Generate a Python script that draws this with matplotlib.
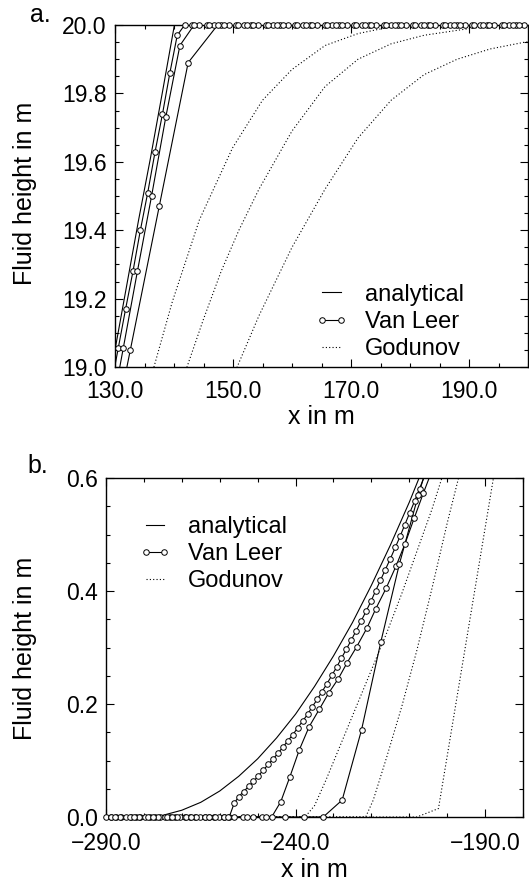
import matplotlib
matplotlib.use("Agg")
import matplotlib.pyplot as plt
from matplotlib.ticker import FixedLocator, MultipleLocator, FuncFormatter
from matplotlib.lines import Line2D

plt.rcParams['font.family'] = ['Liberation Sans', 'DejaVu Sans']

# ---- panel a: upper end of the rarefaction ----
a_xticks = [130.0, 150.0, 170.0, 190.0]
a_yticks = [19.0, 19.2, 19.4, 19.6, 19.8, 20.0]

a_ana_x = [128.0, 130.0, 132.0, 134.0, 136.0, 138.0, 140.07, 200.0]
a_ana_h = [18.87, 19.05, 19.24, 19.43, 19.61, 19.80, 20.0, 20.0]

a_vl1_x = [129.3, 130.55, 131.8, 133.05, 134.3, 135.55, 136.8, 138.05, 139.3, 140.55,
           141.8, 143.05, 144.3, 145.55, 146.8, 148.05, 149.3, 150.55, 151.8, 153.05,
           154.3, 155.55, 156.8, 158.05, 159.3, 160.55, 161.8, 163.05, 164.3, 165.55,
           166.8, 168.05, 169.3, 170.55, 171.8, 173.05, 174.3, 175.55, 176.8, 178.05,
           179.3, 180.55, 181.8, 183.05, 184.3, 185.55, 186.8, 188.05, 189.3, 190.55,
           191.8, 193.05, 194.3, 195.55, 196.8, 198.05, 199.3]
a_vl1_h = [18.94, 19.055, 19.17, 19.28, 19.40, 19.51, 19.63, 19.74, 19.86, 19.97,
           20.0, 20.0, 20.0, 20.0, 20.0, 20.0, 20.0, 20.0, 20.0, 20.0,
           20.0, 20.0, 20.0, 20.0, 20.0, 20.0, 20.0, 20.0, 20.0, 20.0,
           20.0, 20.0, 20.0, 20.0, 20.0, 20.0, 20.0, 20.0, 20.0, 20.0,
           20.0, 20.0, 20.0, 20.0, 20.0, 20.0, 20.0, 20.0, 20.0, 20.0,
           20.0, 20.0, 20.0, 20.0, 20.0, 20.0, 20.0]

a_vl2_x = [129.0, 131.4, 133.8, 136.2, 138.6, 141.0,
           143.4, 145.9, 148.4, 150.9, 153.4, 155.9, 158.4, 160.9, 163.4, 165.9,
           168.4, 170.9, 173.4, 175.9, 178.4, 180.9, 183.4, 185.9, 188.4, 190.9,
           193.4, 195.9, 198.4]
a_vl2_h = [18.83, 19.055, 19.28, 19.50, 19.73, 19.94,
           20.0, 20.0, 20.0, 20.0, 20.0, 20.0, 20.0, 20.0, 20.0, 20.0,
           20.0, 20.0, 20.0, 20.0, 20.0, 20.0, 20.0, 20.0, 20.0, 20.0,
           20.0, 20.0, 20.0]

a_vl3_x = [127.6, 132.6, 137.5, 142.4, 147.4, 152.4, 157.4, 162.4, 167.4, 172.4,
           177.4, 182.4, 187.4, 192.4, 197.4]
a_vl3_h = [18.62, 19.05, 19.47, 19.89, 20.0, 20.0, 20.0, 20.0, 20.0, 20.0,
           20.0, 20.0, 20.0, 20.0, 20.0]

a_god1_x = [134.0, 136.6, 139.7, 144.3, 149.9, 155.0, 160.0, 165.6, 171.2, 176.0, 180.0, 200.0]
a_god1_h = [18.83, 19.0, 19.19, 19.43, 19.64, 19.78, 19.87, 19.94, 19.975, 19.992, 20.0, 20.0]
a_god2_x = [139.5, 142.2, 145.0, 148.0, 151.0, 154.4, 160.0, 165.6, 171.2, 176.8, 182.4, 190.2, 196.0, 200.0]
a_god2_h = [18.85, 19.0, 19.14, 19.28, 19.40, 19.52, 19.69, 19.82, 19.90, 19.945, 19.97, 19.99, 20.0, 20.0]
a_god3_x = [148.0, 150.7, 154.4, 160.0, 165.6, 171.2, 176.8, 182.4, 188.0, 193.6, 199.5, 201.0]
a_god3_h = [18.88, 19.0, 19.15, 19.35, 19.52, 19.67, 19.78, 19.855, 19.90, 19.93, 19.95, 19.952]

# ---- panel b: toe of the wave on the dry bed ----
b_xticks = [-290.0, -240.0, -190.0]
b_yticks = [0.0, 0.2, 0.4, 0.6]

b_ana_x = [-290.0, -280.1, -275.0, -270.0, -265.0, -260.0, -255.0, -250.0, -245.0,
           -240.0, -235.0, -230.0, -225.0, -220.0, -215.0, -210.0, -205.0]
b_ana_h = [0.0, 0.0, 0.003, 0.012, 0.026, 0.046, 0.072, 0.103, 0.140,
           0.182, 0.231, 0.285, 0.344, 0.410, 0.481, 0.557, 0.640]

b_vl1_x = [-290.0, -288.7, -287.4, -286.1, -284.8, -283.5, -282.2, -280.9, -279.6, -278.3,
           -277.0, -275.7, -274.4, -273.1, -271.8, -270.5, -269.2, -267.9, -266.6, -265.3,
           -264.0, -262.7, -261.4, -260.1, -258.8, -257.5, -256.2, -255.0, -253.7, -252.4,
           -251.1, -249.8, -248.5, -247.2, -245.9, -244.6, -243.3, -242.0, -240.7, -239.4,
           -238.1, -236.8, -235.6, -234.3, -233.0, -231.7, -230.4, -229.1, -227.9, -226.6,
           -225.3, -224.0, -222.7, -221.4, -220.1, -218.9, -217.6, -216.3, -215.0, -213.7,
           -212.4, -211.2, -209.9, -208.6, -207.3, -206.0, -204.7]
b_vl1_h = [0.0, 0.0, 0.0, 0.0, 0.0, 0.0, 0.0, 0.0, 0.0, 0.0,
           0.0, 0.0, 0.0, 0.0, 0.0, 0.0, 0.0, 0.0, 0.0, 0.0,
           0.0, 0.0, 0.0, 0.0, 0.0, 0.0, 0.024, 0.036, 0.045, 0.054,
           0.063, 0.073, 0.083, 0.093, 0.103, 0.113, 0.124, 0.135, 0.146, 0.158,
           0.170, 0.182, 0.195, 0.208, 0.222, 0.236, 0.251, 0.266, 0.281, 0.297,
           0.313, 0.330, 0.347, 0.364, 0.382, 0.400, 0.419, 0.438, 0.457, 0.477,
           0.497, 0.517, 0.538, 0.559, 0.581, 0.603, 0.626]

b_vl2_x = [-288.8, -286.3, -283.8, -281.3, -278.8, -276.3, -273.8, -271.3, -268.8, -266.3,
           -263.8, -261.3, -258.8, -256.3, -253.8, -251.3, -248.8, -246.3, -243.9, -241.5,
           -239.0, -236.4, -233.7, -231.3, -228.7, -226.4, -223.9, -221.2, -218.8, -216.1,
           -213.5, -211.1, -208.7, -206.3, -203.9]
b_vl2_h = [0.0, 0.0, 0.0, 0.0, 0.0, 0.0, 0.0, 0.0, 0.0, 0.0,
           0.0, 0.0, 0.0, 0.0, 0.0, 0.0, 0.0, 0.0, 0.027, 0.071,
           0.119, 0.160, 0.191, 0.219, 0.245, 0.273, 0.301, 0.334, 0.369, 0.405,
           0.444, 0.484, 0.529, 0.573, 0.615]

b_vl3_x = [-287.7, -282.7, -277.7, -272.7, -267.7, -262.7, -257.7, -252.7, -247.7, -242.7,
           -237.7, -232.7, -227.7, -222.6, -217.5, -212.6, -207.6, -202.6]
b_vl3_h = [0.0, 0.0, 0.0, 0.0, 0.0, 0.0, 0.0, 0.0, 0.0, 0.0,
           0.0, 0.0, 0.030, 0.154, 0.310, 0.448, 0.570, 0.680]

b_god1_x = [-290.0, -237.5, -235.0, -232.0, -228.0, -224.0, -220.0, -216.0, -212.0, -208.0, -204.0, -201.4, -199.0]
b_god1_h = [0.0, 0.0, 0.02, 0.065, 0.13, 0.195, 0.26, 0.325, 0.395, 0.47, 0.545, 0.6, 0.645]
b_god2_x = [-290.0, -221.5, -219.5, -216.0, -212.0, -208.0, -204.0, -200.0, -197.0, -195.0]
b_god2_h = [0.0, 0.0, 0.03, 0.105, 0.195, 0.295, 0.405, 0.52, 0.6, 0.65]
b_god3_x = [-290.0, -208.0, -202.3, -187.8, -186.0]
b_god3_h = [0.0, 0.0, 0.015, 0.6, 0.673]

legend_labels = ["analytical", "Van Leer", "Godunov"]

FS_TICK = 16.5
FS_LAB = 18
FS_LEG = 17
W, H = 529, 884
fig = plt.figure(figsize=(W / 100, H / 100), dpi=100)

LW = 0.8
DOT = (0, (1, 2))
MK = dict(marker="o", ms=4, mfc="white", mec="black", mew=0.7)


def fmt(v, pos):
    return ("%.1f" % v).replace("-", "\u2212")


def draw(ax, xlim, ylim, ana, vls, gods, xpad):
    ax.plot(*ana, color="black", lw=LW)
    for x, h in vls:
        ax.plot(x, h, color="black", lw=LW)
        # markers drawn unclipped so the ones on the frame stay whole
        pts = [(a, b) for a, b in zip(x, h)
               if xlim[0] <= a <= xlim[1] and ylim[0] <= b <= ylim[1]]
        ax.plot([p[0] for p in pts], [p[1] for p in pts], ls="none",
                clip_on=False, zorder=3, **MK)
    for x, h in gods:
        ax.plot(x, h, color="black", lw=LW, ls=DOT)
    ax.set_xlim(*xlim)
    ax.set_ylim(*ylim)
    ax.xaxis.set_major_formatter(FuncFormatter(fmt))
    ax.yaxis.set_major_formatter(FuncFormatter(fmt))
    ax.tick_params(which="both", direction="in", top=True, right=True,
                   labelsize=FS_TICK, width=0.8)
    ax.tick_params(which="major", length=6)
    ax.tick_params(which="minor", length=3)
    ax.tick_params(axis="x", pad=xpad)
    ax.tick_params(axis="y", pad=6)
    for s in ax.spines.values():
        s.set_linewidth(1.0)


def add_legend(ax, anchor):
    handles = [Line2D([], [], color="black", lw=LW),
               Line2D([], [], color="black", lw=LW, **MK),
               Line2D([], [], color="black", lw=LW, ls=DOT)]
    ax.legend(handles, legend_labels, loc="center left", bbox_to_anchor=anchor,
              frameon=False, fontsize=FS_LEG, numpoints=2, handlelength=1.4,
              handletextpad=0.7, labelspacing=0.22, borderpad=0, borderaxespad=0)


# panel a
ax1 = fig.add_axes([115 / W, 1 - 367 / H, 413 / W, 342 / H])
draw(ax1, (130, 200), (19.0, 20.0),
     (a_ana_x, a_ana_h),
     [(a_vl1_x, a_vl1_h), (a_vl2_x, a_vl2_h), (a_vl3_x, a_vl3_h)],
     [(a_god1_x, a_god1_h), (a_god2_x, a_god2_h), (a_god3_x, a_god3_h)], 9)
ax1.xaxis.set_major_locator(FixedLocator(a_xticks))
ax1.xaxis.set_minor_locator(MultipleLocator(5))
ax1.yaxis.set_major_locator(FixedLocator(a_yticks))
ax1.yaxis.set_minor_locator(MultipleLocator(0.05))
add_legend(ax1, (0.485, 0.132))

# panel b
ax2 = fig.add_axes([106 / W, 1 - 817 / H, 417 / W, 339 / H])
draw(ax2, (-290, -180), (0.0, 0.6),
     (b_ana_x, b_ana_h),
     [(b_vl1_x, b_vl1_h), (b_vl2_x, b_vl2_h), (b_vl3_x, b_vl3_h)],
     [(b_god1_x, b_god1_h), (b_god2_x, b_god2_h), (b_god3_x, b_god3_h)], 11)
ax2.xaxis.set_major_locator(FixedLocator(b_xticks))
ax2.xaxis.set_minor_locator(MultipleLocator(10))
ax2.yaxis.set_major_locator(FixedLocator(b_yticks))
ax2.yaxis.set_minor_locator(MultipleLocator(0.05))
add_legend(ax2, (0.078, 0.775))

# axis titles and panel letters
fig.text(25 / W, 1 - 193 / H, "Fluid height in m", rotation=90, ha="center", va="center", fontsize=FS_LAB)
fig.text(25 / W, 1 - 648 / H, "Fluid height in m", rotation=90, ha="center", va="center", fontsize=FS_LAB)
fig.text(321 / W, 1 - 417 / H, "x in m", ha="center", va="center", fontsize=FS_LAB)
fig.text(314 / W, 1 - 870 / H, "x in m", ha="center", va="center", fontsize=FS_LAB)
fig.text(40 / W, 1 - 15 / H, "a.", ha="center", va="center", fontsize=FS_LAB)
fig.text(38 / W, 1 - 466 / H, "b.", ha="center", va="center", fontsize=FS_LAB)

fig.savefig("out.png", dpi=100)
